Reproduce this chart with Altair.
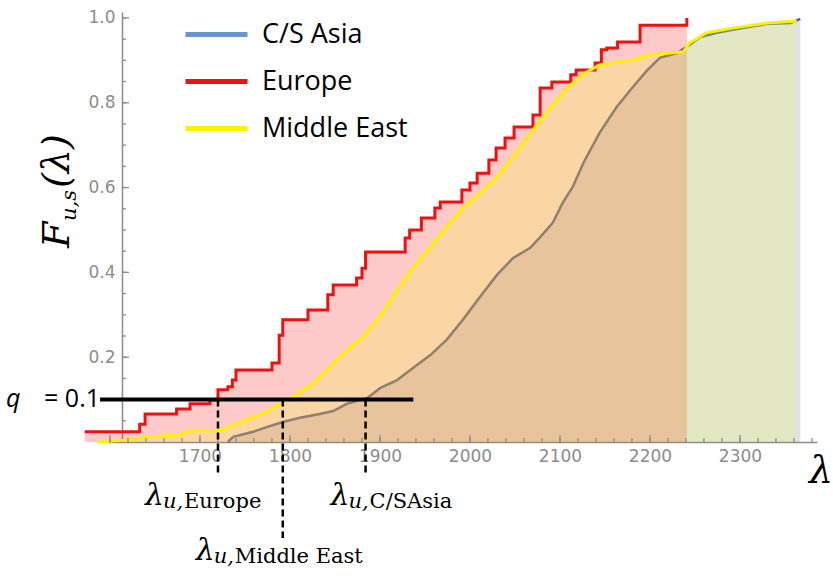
import altair as alt
import pandas as pd

# ---- empirical CDFs F_{u,s}(lambda) per region ----
regions = ["C/S Asia", "Europe", "Middle East"]
legend_colors = ["#6796d2", "#ee1111", "#fff000"]
asia_line_color = "#3c64aa"

asia_lam = [1731, 1737, 1759, 1774, 1792, 1811, 1833, 1848, 1863, 1886,
            1900, 1919, 1937, 1956, 1974, 1992, 2011, 2030, 2048, 2067,
            2078, 2092, 2103, 2114, 2126, 2144, 2163, 2181, 2197, 2211,
            2230, 2241, 2256, 2274, 2292, 2311, 2330, 2356, 2367]
asia_F = [0.000, 0.012, 0.024, 0.035, 0.047, 0.057, 0.066, 0.073, 0.090, 0.104,
          0.127, 0.146, 0.175, 0.205, 0.241, 0.288, 0.342, 0.394, 0.434, 0.458,
          0.483, 0.517, 0.564, 0.601, 0.658, 0.729, 0.790, 0.837, 0.877, 0.906,
          0.917, 0.932, 0.955, 0.965, 0.972, 0.979, 0.986, 0.988, 0.998]

europe_lam = [1572, 1633, 1639, 1674, 1689, 1711, 1720, 1731, 1736, 1740,
              1780, 1788, 1792, 1820, 1842, 1848, 1874, 1880, 1884, 1928,
              1933, 1946, 1961, 1967, 1991, 2000, 2008, 2021, 2029, 2039,
              2049, 2070, 2078, 2091, 2112, 2118, 2139, 2146, 2152, 2164,
              2189, 2241]
europe_F = [0.024, 0.042, 0.066, 0.078, 0.090, 0.099, 0.123, 0.130, 0.146, 0.170,
            0.186, 0.252, 0.288, 0.311, 0.347, 0.370, 0.387, 0.410, 0.448, 0.481,
            0.500, 0.528, 0.552, 0.566, 0.594, 0.611, 0.634, 0.665, 0.693, 0.717,
            0.743, 0.771, 0.835, 0.849, 0.866, 0.877, 0.894, 0.925, 0.929, 0.943,
            0.983, 1.000]

mideast_lam = [1586, 1622, 1641, 1678, 1686, 1722, 1737, 1759, 1774, 1792,
               1803, 1826, 1844, 1863, 1881, 1900, 1919, 1937, 1956, 1974,
               1992, 2011, 2030, 2052, 2070, 2089, 2108, 2126, 2144, 2163,
               2181, 2197, 2219, 2237, 2244, 2263, 2292, 2330, 2363]
mideast_F = [0.000, 0.005, 0.012, 0.017, 0.026, 0.028, 0.040, 0.059, 0.071, 0.094,
             0.106, 0.139, 0.177, 0.217, 0.248, 0.297, 0.358, 0.413, 0.460, 0.507,
             0.552, 0.587, 0.625, 0.684, 0.736, 0.788, 0.835, 0.868, 0.889, 0.896,
             0.901, 0.913, 0.917, 0.920, 0.941, 0.965, 0.976, 0.988, 0.993]

# quantile level and the lambda_u
q_level = 0.1
q_span = [1589, 1937]
lambda_u_regions = ["Europe", "Middle East", "C/S Asia"]
lambda_u_values = [1720, 1792, 1884]
lambda_u_names = ["Europe", "Middle East", "C/SAsia"]

# axis ticks
x_tick_labels = [1700, 1800, 1900, 2000, 2100, 2200, 2300]
x_major_ticks = [1600] + x_tick_labels
x_minor_ticks = list(range(1600, 2390, 20))
y_tick_labels = [0.2, 0.4, 0.6, 0.8, 1.0]
y_minor_ticks = [round(0.05 * k, 2) for k in range(1, 21)]

# ---- layout / style ----
W, H = 710, 430
AXIS_X = 15          # pixel position of the vertical axis inside the plot
GRAY = "#8c8c8c"
TICK_FONT = "DejaVu Sans"
MATH_FONT = "DejaVu Serif"
TEXT_FONT = "Open Sans"

x_scale = alt.Scale(domain=[1596.7, 2385.6], nice=False, zero=False)
y_scale = alt.Scale(domain=[0, 1.014], nice=False, zero=False)

x_label_axis = alt.Axis(orient="bottom", values=x_tick_labels, format="d",
                        ticks=False, tickSize=0, labelPadding=6,
                        labelFont=TICK_FONT, labelFontSize=17, labelColor=GRAY,
                        domain=True, domainColor=GRAY, domainWidth=1.5,
                        grid=False, title=None, labelFlush=False,
                        labelOverlap=False)
y_label_axis = alt.Axis(orient="left", offset=-AXIS_X, values=y_tick_labels,
                        format=".1f", ticks=False, tickSize=0, labelPadding=7,
                        labelFont=TICK_FONT, labelFontSize=17, labelColor=GRAY,
                        domain=True, domainColor=GRAY, domainWidth=1.5,
                        grid=False, title=None, labelFlush=False,
                        labelOverlap=False)


def cdf_frame(name, lam, F):
    return pd.DataFrame({"region": name, "lam": lam, "F": F})


asia = cdf_frame("C/S Asia", asia_lam, asia_F)
europe = cdf_frame("Europe", europe_lam, europe_F)
mideast = cdf_frame("Middle East", mideast_lam, mideast_F)

legend = alt.Legend(title=None, orient="none", legendX=76, legendY=-11,
                    symbolType="stroke", symbolSize=3844, symbolStrokeWidth=5,
                    labelFont=TEXT_FONT, labelFontSize=27, labelColor="black",
                    labelOffset=12, rowPadding=-5, padding=0, labelLimit=400)
color = alt.Color("region:N", scale=alt.Scale(domain=regions, range=legend_colors),
                  legend=legend)


def enc(xaxis=None, yaxis=None):
    return dict(x=alt.X("lam:Q", scale=x_scale, axis=xaxis),
                y=alt.Y("F:Q", scale=y_scale, axis=yaxis))


# inward tick marks on both axes
def x_ticks(values, length):
    return alt.Chart(pd.DataFrame({"lam": values})).mark_rule(
        color=GRAY, strokeWidth=1.3).encode(
        x=alt.X("lam:Q", scale=x_scale, axis=None),
        y=alt.value(H), y2=alt.value(H - length))


def y_ticks(values, length):
    return alt.Chart(pd.DataFrame({"F": values})).mark_rule(
        color=GRAY, strokeWidth=1.3).encode(
        y=alt.Y("F:Q", scale=y_scale, axis=None),
        x=alt.value(AXIS_X), x2=alt.value(AXIS_X + length))


ticks = [x_ticks(x_minor_ticks, 4), x_ticks(x_major_ticks, 7),
         y_ticks(y_minor_ticks, 4), y_ticks(y_tick_labels, 7)]

# filled areas under each curve (translucent, they overlap)
fill_asia = alt.Chart(asia).mark_area(color="#5569c3", opacity=0.2).encode(
    **enc(x_label_axis, y_label_axis))
line_asia = alt.Chart(asia).mark_line(strokeWidth=2.5, color=asia_line_color).encode(
    **enc())
fill_europe = alt.Chart(europe).mark_area(
    interpolate="step-after", color="#f83737", opacity=0.27).encode(**enc())
fill_mideast = alt.Chart(mideast).mark_area(color="#f5fa28", opacity=0.24).encode(
    **enc())
line_europe = alt.Chart(europe).mark_line(
    interpolate="step-after", strokeWidth=3).encode(color=color, **enc())
line_mideast = alt.Chart(mideast).mark_line(strokeWidth=3).encode(
    color=color, **enc())

# q = 0.1 level line
q_df = pd.DataFrame({"lam": [q_span[0]], "lam2": [q_span[1]], "F": [q_level]})
q_line = alt.Chart(q_df).mark_rule(color="black", strokeWidth=4).encode(
    x=alt.X("lam:Q", scale=x_scale, axis=None), x2="lam2:Q",
    y=alt.Y("F:Q", scale=y_scale, axis=None))

lu = pd.DataFrame({"region": lambda_u_regions, "lam": lambda_u_values,
                   "name": lambda_u_names, "q": q_level})

# leader length (px from plot top) and label placement per region
label_style = {
    "Europe": dict(drop=461, base=493, shift=-73),
    "C/S Asia": dict(drop=461, base=493, shift=-35),
    "Middle East": dict(drop=526, base=548, shift=-87),
}

annotations = []
for region, st in label_style.items():
    sub = alt.Chart(lu).transform_filter(alt.datum.region == region)
    annotations.append(
        sub.mark_rule(color="black", strokeWidth=2.5, strokeDash=[7, 4]).encode(
            x=alt.X("lam:Q", scale=x_scale, axis=None),
            y=alt.Y("q:Q", scale=y_scale, axis=None),
            y2=alt.value(st["drop"])))
    parts = [("λ", 30, "italic", 0, 0), ("u,", 21, "italic", 18, 3)]
    for txt, size, style, dx, dy in parts:
        annotations.append(
            sub.mark_text(text=txt, font=MATH_FONT, fontSize=size, fontStyle=style,
                          align="left", baseline="alphabetic", color="black",
                          dx=st["shift"] + dx, dy=dy).encode(
                x=alt.X("lam:Q", scale=x_scale, axis=None),
                y=alt.value(st["base"])))
    annotations.append(
        sub.mark_text(font=MATH_FONT, fontSize=21, align="left",
                      baseline="alphabetic", color="black",
                      dx=st["shift"] + 39, dy=3).encode(
            x=alt.X("lam:Q", scale=x_scale, axis=None),
            y=alt.value(st["base"]), text="name:N"))


def free_text(txt, x, y, **kw):
    return alt.Chart(pd.DataFrame({"t": [txt]})).mark_text(
        baseline="alphabetic", color="black", **kw).encode(
        x=alt.value(x), y=alt.value(y), text="t:N")


titles = [
    # vertical axis title F_{u,s}(λ)
    free_text("F", -38, 236, font=MATH_FONT, fontSize=38, fontStyle="italic",
              align="left", angle=270),
    free_text("u,s", -38, 236, font=MATH_FONT, fontSize=21, fontStyle="italic",
              align="left", angle=270, dx=27, dy=7),
    free_text("(λ)", -38, 236, font=MATH_FONT, fontSize=38, fontStyle="italic",
              align="left", angle=270, dx=60),
    # horizontal axis title
    free_text("λ", 702, 471, font=MATH_FONT, fontSize=38, fontStyle="italic",
              align="left"),
    # quantile level
    free_text("q", -101, 395, font=TEXT_FONT, fontSize=25, fontStyle="italic",
              align="left"),
    free_text("= 0.1", -7, 395, font=TEXT_FONT, fontSize=25, align="right"),
]

chart = alt.layer(
    fill_asia, line_asia, fill_europe, fill_mideast, line_europe, line_mideast,
    *ticks, q_line, *annotations, *titles
).resolve_axis(
    x="independent", y="independent"
).properties(
    width=W, height=H,
    padding={"left": 107, "top": 12, "right": 16, "bottom": 134},
    autosize=alt.AutoSizeParams(type="none"),
    background="white",
).configure_view(stroke=None)

chart.save("out.html", embed_options={"renderer": "svg", "actions": False})
